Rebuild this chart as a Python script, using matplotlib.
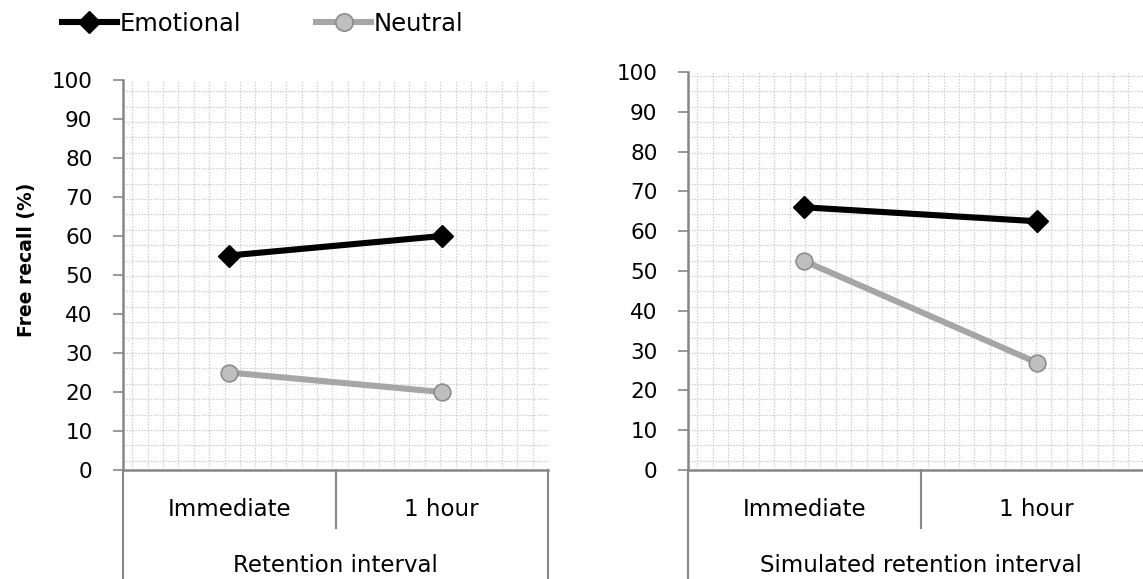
import matplotlib.pyplot as plt
import numpy as np
from matplotlib.lines import Line2D

intervals = ['Immediate', '1 hour']
emotional_real = [55, 60]
neutral_real = [25, 20]
emotional_sim = [66, 62.5]
neutral_sim = [52.5, 27]
yticks = list(range(0, 101, 10))
panel_titles = ['Retention interval', 'Simulated retention interval']

plt.rcParams['font.family'] = ['DejaVu Sans']
FS = 16.5
TICK_FS = 15.5
W, H = 1143, 579
fig = plt.figure(figsize=(W / 100, H / 100), dpi=100)

# pixel boxes for the two plot areas: left, top, width, height
boxes = [(123, 80, 425, 390), (688, 72, 465, 398)]
series = [(emotional_real, neutral_real), (emotional_sim, neutral_sim)]

AXIS_GREY = '#878787'
EMO = 'black'
NEU = '#A6A6A6'
LW = 4.4


def dotted_pattern(ax, w, h, step=15.4):
    kw = dict(transform=ax.transAxes, color='#C4C4C4', lw=0.9,
              ls=(0, (1, 1.4)), zorder=0)
    for x in np.arange(step * 0.6, w, step):
        ax.plot([x / w, x / w], [0, 1], **kw)
    for y in np.arange(step * 0.6, h, step):
        ax.plot([0, 1], [y / h, y / h], **kw)


for (l, t, w, h), (emo, neu), title in zip(boxes, series, panel_titles):
    ax = fig.add_axes([l / W, (H - t - h) / H, w / W, h / H])
    dotted_pattern(ax, w, h)
    xs = np.arange(len(intervals)) + 0.5
    ax.plot(xs, neu, color=NEU, lw=LW, marker='o', ms=12,
            mfc='#BFBFBF', mec='#8C8C8C', mew=1.2, zorder=3,
            solid_capstyle='butt')
    ax.plot(xs, emo, color=EMO, lw=LW, marker='D', ms=11,
            zorder=4, solid_capstyle='butt')
    ax.set_xlim(0, len(intervals))
    ax.set_ylim(0, 100)
    ax.set_yticks(yticks)
    ax.tick_params(axis='y', labelsize=TICK_FS, length=7, width=1.2,
                   color=AXIS_GREY, pad=15)
    ax.set_xticks([])
    for s in ['top', 'right']:
        ax.spines[s].set_visible(False)
    for s in ['left', 'bottom']:
        ax.spines[s].set_color(AXIS_GREY)
        ax.spines[s].set_linewidth(1.8)

    # category axis below the plot area
    lkw = dict(transform=ax.transAxes, color=AXIS_GREY, lw=1.5, clip_on=False)
    ax.plot([0, 0], [0, -112 / h], **lkw)
    ax.plot([1, 1], [0, -112 / h], **lkw)
    ax.plot([0.5, 0.5], [0, -58 / h], **lkw)
    for i, lab in enumerate(intervals):
        ax.text((i + 0.5) / len(intervals), -39 / h, lab, transform=ax.transAxes,
                ha='center', va='center', fontsize=FS)
    ax.text(0.5, -96 / h, title, transform=ax.transAxes,
            ha='center', va='center', fontsize=FS)

    if l < 500:
        ax.set_ylabel('Free recall (%)', fontsize=13.5, fontweight='bold',
                      va='center')
        ax.yaxis.set_label_coords(-(l - 27) / w, 0.5 + 15 / h)

handles = [
    Line2D([], [], color=EMO, lw=LW, marker='D', ms=11),
    Line2D([], [], color=NEU, lw=LW, marker='o', ms=12.5,
           mfc='#BFBFBF', mec='#8C8C8C', mew=1.2),
]
fig.legend(handles, ['Emotional', 'Neutral'], loc='center left',
           bbox_to_anchor=(62 / W, 1 - 24 / H), ncol=2, frameon=False,
           fontsize=17.5, handlelength=2.25, handletextpad=0.12,
           columnspacing=3.1, borderaxespad=0, borderpad=0)

fig.savefig('out.png', dpi=100)
